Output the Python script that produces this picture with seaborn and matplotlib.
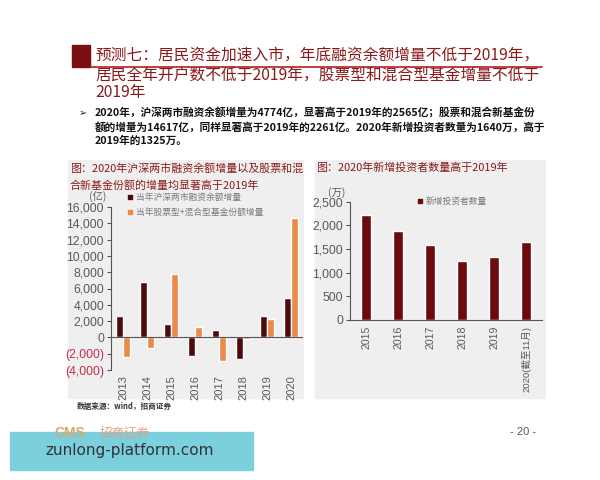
import numpy as np
import pandas as pd
import matplotlib
matplotlib.use("Agg")
import matplotlib.pyplot as plt
import seaborn as sns
from matplotlib.patches import Rectangle

sns.set_style("white")
plt.rcParams['font.family'] = ['Noto Sans CJK SC', 'DejaVu Sans']
plt.rcParams['axes.unicode_minus'] = False

# 左图数据（亿）
years_l = ["2013", "2014", "2015", "2016", "2017", "2018", "2019", "2020"]
margin_inc = [2600, 6800, 1600, -2330, 900, -2700, 2565, 4774]
fund_inc = [-2360, -1300, 7750, 1230, -2900, -250, 2261, 14617]
series_l = ["当年沪深两市融资余额增量", "当年股票型+混合型基金份额增量"]

# 右图数据（万）
years_r = ["2015", "2016", "2017", "2018", "2019", "2020(截至11月)"]
new_investors = [2210, 1890, 1580, 1250, 1325, 1640]
series_r = "新增投资者数量"

yticks_l = [-4000, -2000, 0, 2000, 4000, 6000, 8000, 10000, 12000, 14000, 16000]
yticks_r = [0, 500, 1000, 1500, 2000, 2500]

dark = "#4d0a0c"
orange = "#ec8a4a"
maroon = "#6a0b0e"
title_red = "#8a1a1a"
bg = "#efefef"

W, H = 600, 480
fig = plt.figure(figsize=(6, 4.8), dpi=100)


def fx(px):
    return px / W


def fy(py):
    return 1 - py / H


def box(x0, y0, x1, y1, **kw):
    fig.patches.append(Rectangle((fx(x0), fy(y1)), fx(x1) - fx(x0), fy(y0) - fy(y1),
                                 transform=fig.transFigure, **kw))


# 标题
box(72, 45, 90, 67, color="#7a0e12", zorder=1)
fig.add_artist(plt.Line2D([fx(90), fx(542)], [fy(67), fy(67)], color="#b01e24", lw=1.2,
                          transform=fig.transFigure))
tkw = dict(fontsize=11.3, color=title_red, va="center", ha="left")
fig.text(fx(95), fy(55), "预测七：居民资金加速入市，年底融资余额增量不低于2019年，", **tkw)
fig.text(fx(95), fy(75), "居民全年开户数不低于2019年，股票型和混合型基金增量不低于", **tkw)
fig.text(fx(95), fy(93), "2019年", **tkw)

# 要点
fig.text(fx(79), fy(113), "➢", fontsize=7, family=["DejaVu Sans"], va="center")
bkw = dict(fontsize=7.7, color="#111111", va="center", ha="left", fontweight="bold")
fig.text(fx(95), fy(113), "2020年，沪深两市融资余额增量为4774亿，显著高于2019年的2565亿；股票和混合新基金份", **bkw)
fig.text(fx(95), fy(127), "额的增量为14617亿，同样显著高于2019年的2261亿。2020年新增投资者数量为1640万，高于", **bkw)
fig.text(fx(95), fy(141), "2019年的1325万。", **bkw)

# 背景面板
box(68, 160, 303, 398, color=bg, zorder=-5)
box(315, 160, 545, 398, color=bg, zorder=-5)

ckw = dict(fontsize=7.9, color=title_red, va="center", ha="left")
fig.text(fx(70), fy(168), "图：2020年沪深两市融资余额增量以及股票和混", **ckw)
fig.text(fx(70), fy(185), "合新基金份额的增量均显著高于2019年", **ckw)
fig.text(fx(316), fy(168), "图：2020年新增投资者数量高于2019年", **ckw)

# 左图
df_l = pd.DataFrame({
    "year": years_l * 2,
    "value": margin_inc + fund_inc,
    "series": [series_l[0]] * len(years_l) + [series_l[1]] * len(years_l),
})
ax1 = fig.add_axes([fx(111), fy(370), fx(303) - fx(111), fy(207) - fy(370)])
ax1.patch.set_alpha(0)
sns.barplot(data=df_l, x="year", y="value", hue="series", palette=[dark, orange],
            width=0.66, gap=0.12, ax=ax1, legend=False, saturation=1)
ax1.set_ylim(-4000, 16000)
ax1.set_xlim(-0.5, len(years_l) - 0.5)
ax1.axhline(0, color="#555555", lw=0.8)
ax1.set_yticks(yticks_l)
labels = []
for v in yticks_l:
    labels.append(f"({-v:,})" if v < 0 else f"{v:,}")
ax1.set_yticklabels(labels, family=["Liberation Sans"], fontsize=8.8)
for t, v in zip(ax1.get_yticklabels(), yticks_l):
    t.set_color("#c0304a" if v < 0 else "#595959")
ax1.tick_params(axis="y", length=3, width=0.8, color="#555555", direction="out", pad=2, left=True)
ax1.set_xticks(range(len(years_l)))
ax1.set_xticklabels(years_l, rotation=90, family=["Liberation Sans"], fontsize=8, color="#595959")
ax1.tick_params(axis="x", length=0, pad=4)
for s in ["top", "right", "bottom"]:
    ax1.spines[s].set_visible(False)
ax1.spines["left"].set_color("#555555")
ax1.spines["left"].set_linewidth(0.8)
ax1.set_xlabel("")
ax1.set_ylabel("")
fig.text(fx(98), fy(197), "(亿)", fontsize=7.5, color="#595959", va="center", ha="center")

# 左图图例
lkw = dict(fontsize=6.3, color="#7a7a7a", va="center", ha="left")
box(128, 195, 132, 199, color=dark)
fig.text(fx(136), fy(197), series_l[0], **lkw)
box(128, 210, 132, 214, color=orange)
fig.text(fx(136), fy(212), series_l[1], **lkw)

# 右图
df_r = pd.DataFrame({"year": years_r, "value": new_investors})
ax2 = fig.add_axes([fx(350), fy(320), fx(542) - fx(350), fy(201.7) - fy(320)])
ax2.patch.set_alpha(0)
sns.barplot(data=df_r, x="year", y="value", color=maroon, width=0.32, ax=ax2, saturation=1)
ax2.set_ylim(0, 2500)
ax2.set_xlim(-0.5, len(years_r) - 0.5)
ax2.set_yticks(yticks_r)
ax2.set_yticklabels([f"{v:,}" for v in yticks_r], family=["Liberation Sans"], fontsize=8.8, color="#595959")
ax2.tick_params(axis="y", length=3, width=0.8, color="#555555", direction="out", pad=2, left=True)
ax2.set_xticks(range(len(years_r)))
ax2.set_xticklabels(years_r, rotation=90, fontsize=7.6, color="#595959",
                    family=["Liberation Sans", "Noto Sans CJK SC"])
ax2.get_xticklabels()[-1].set_fontsize(6.8)
ax2.tick_params(axis="x", length=0, pad=4)
for s in ["top", "right"]:
    ax2.spines[s].set_visible(False)
for s in ["left", "bottom"]:
    ax2.spines[s].set_color("#555555")
    ax2.spines[s].set_linewidth(0.8)
ax2.set_xlabel("")
ax2.set_ylabel("")
fig.text(fx(337), fy(193), "(万)", fontsize=7.5, color="#595959", va="center", ha="center")
box(418, 199, 422, 203, color=maroon)
fig.text(fx(426), fy(201), series_r, fontsize=6.3, color="#7a7a7a", va="center", ha="left")

# 数据来源
fig.text(fx(77), fy(406), "数据来源：wind，招商证券", fontsize=5.5, color="#333333",
         fontweight="bold", va="center", ha="left")

# 页脚
fig.text(fx(54), fy(433), "CMS", fontsize=10, color="#d9a86a", fontweight="bold",
         family=["Liberation Sans"], va="center", ha="left")
fig.text(fx(100), fy(433), "招商证券", fontsize=9, color="#e0a080", va="center", ha="left")
fig.text(fx(523), fy(432), "- 20 -", fontsize=8, color="#555555", family=["Liberation Sans"],
         va="center", ha="center")
box(10, 432, 253, 470, color="#7ccfdd", zorder=3)
fig.text(fx(45), fy(451), "zunlong-platform.com", fontsize=11, color="#333333",
         family=["DejaVu Sans"], va="center", ha="left", zorder=4)

fig.savefig("out.png", dpi=100, facecolor="white")
